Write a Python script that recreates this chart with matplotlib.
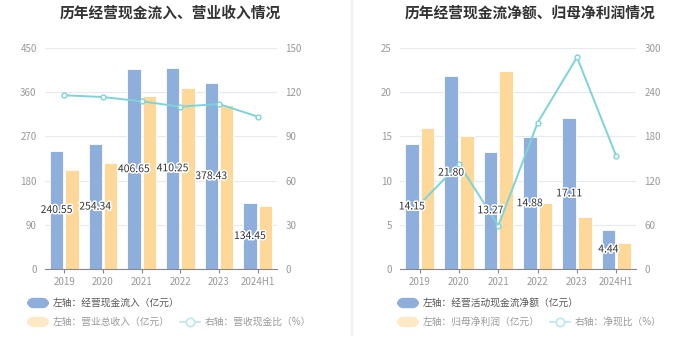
import numpy as np
import matplotlib.pyplot as plt
import matplotlib.patheffects as pe
from matplotlib.patches import FancyBboxPatch
from matplotlib.lines import Line2D

plt.rcParams['font.family'] = ['Noto Sans CJK SC', 'DejaVu Sans']

# === Dati ===
years = ['2019', '2020', '2021', '2022', '2023', '2024H1']

# pannello sinistro
cash_in = [240.55, 254.34, 406.65, 410.25, 378.43, 134.45]
revenue = [201.6, 216.0, 352.0, 368.0, 334.0, 129.0]
cash_rev_ratio = [117.9, 116.7, 113.8, 110.2, 112.0, 103.4]

# pannello destro
net_cash = [14.15, 21.80, 13.27, 14.88, 17.11, 4.44]
net_profit = [15.9, 15.1, 22.4, 7.43, 5.85, 2.9]
net_cash_ratio = [87.8, 142.5, 58.8, 198.6, 287.4, 153.0]

titles = ['历年经营现金流入、营业收入情况', '历年经营现金流净额、归母净利润情况']
legend_left = ['左轴：经营现金流入（亿元）', '左轴：营业总收入（亿元）', '右轴：营收现金比（%）']
legend_right = ['左轴：经营活动现金流净额（亿元）', '左轴：归母净利润（亿元）', '右轴：净现比（%）']

BLUE = '#8eaedb'
YELLOW = '#fed899'
CYAN = '#7ed3d9'
GRID = '#e6e9f0'
TICK = '#999999'

fig = plt.figure(figsize=(7, 3.6), dpi=100, facecolor='w')


def panel(rect, bars1, bars2, line, ylim1, yticks1, ylim2, yticks2, title, title_x, leg, leg_x, line_leg_x):
    ax = fig.add_axes(rect)
    x = np.arange(len(years))
    ax.bar(x - 0.2, bars1, width=0.35, color=BLUE, edgecolor='white', linewidth=0.6, zorder=2)
    ax.bar(x + 0.2, bars2, width=0.35, color=YELLOW, edgecolor='white', linewidth=0.6, zorder=2)
    ax.set_xlim(-0.5, len(years) - 0.5)
    ax.set_ylim(*ylim1)
    ax.set_yticks(yticks1)
    ax.set_xticks(x)
    ax.set_xticklabels(years)
    ax.grid(axis='y', color=GRID, linewidth=0.8, zorder=0)
    for s in ['top', 'right', 'left']:
        ax.spines[s].set_visible(False)
    ax.spines['bottom'].set_color('#888888')
    ax.tick_params(axis='y', length=0, labelsize=7, colors=TICK, pad=6)
    ax.tick_params(axis='x', length=3, color='#888888', labelsize=7, labelcolor=TICK, pad=3)

    # asse destro: linea sopra le barre
    ax2 = ax.twinx()
    ax2.plot(x, line, color=CYAN, linewidth=1.4, marker='o', markersize=3.5,
             markerfacecolor='white', markeredgecolor=CYAN, markeredgewidth=1.0, zorder=5)
    ax2.set_ylim(*ylim2)
    ax2.set_yticks(yticks2)
    for s in ax2.spines.values():
        s.set_visible(False)
    ax2.tick_params(axis='y', length=0, labelsize=7, colors=TICK, pad=6)

    # etichette al centro delle barre blu (sopra la linea)
    for xi, v in zip(x, bars1):
        t = ax2.text(xi - 0.2, v / 2, f'{v:.2f}', ha='center', va='center', fontsize=7.5,
                     color='#333333', zorder=10, transform=ax.transData)
        t.set_path_effects([pe.withStroke(linewidth=2.2, foreground='white')])

    fig.text(title_x, 0.965, title, ha='center', va='center', fontsize=10.6,
             fontweight='bold', color='#333333')

    # legenda
    y1 = 1 - 303 / 360
    y2 = 1 - 322 / 360
    w = 20 / 700
    h = 9 / 360
    fig.patches.append(FancyBboxPatch((leg_x, y1 - h / 2), w, h, boxstyle='round,pad=0,rounding_size=0.008',
                                      transform=fig.transFigure, color=BLUE, mutation_aspect=2))
    fig.text(leg_x + w + 5 / 700, y1, leg[0], ha='left', va='center', fontsize=7, color='#555555')
    fig.patches.append(FancyBboxPatch((leg_x, y2 - h / 2), w, h, boxstyle='round,pad=0,rounding_size=0.008',
                                      transform=fig.transFigure, color='#fee9c6', mutation_aspect=2))
    fig.text(leg_x + w + 5 / 700, y2, leg[1], ha='left', va='center', fontsize=7, color='#999999')
    fig.lines.append(Line2D([line_leg_x, line_leg_x + w], [y2, y2], transform=fig.transFigure,
                            color='#b9e9ec', linewidth=1.2))
    fig.lines.append(Line2D([line_leg_x + w / 2], [y2], transform=fig.transFigure, color='#b9e9ec',
                            marker='o', markersize=6, markerfacecolor='white', markeredgewidth=1.2, linestyle=''))
    fig.text(line_leg_x + w + 5 / 700, y2, leg[2], ha='left', va='center', fontsize=7, color='#999999')
    return ax, ax2


panel([45 / 700, 1 - 269 / 360, 232 / 700, 221 / 360], cash_in, revenue, cash_rev_ratio,
      (0, 450), np.arange(0, 451, 90), (0, 150), np.arange(0, 151, 30),
      titles[0], 170 / 700, legend_left, 28 / 700, 180 / 700)

panel([400 / 700, 1 - 269 / 360, 236 / 700, 221 / 360], net_cash, net_profit, net_cash_ratio,
      (0, 25), np.arange(0, 26, 5), (0, 300), np.arange(0, 301, 60),
      titles[1], 530 / 700, legend_right, 398 / 700, 550 / 700)

# separatore tra i pannelli
fig.lines.append(Line2D([352 / 700, 352 / 700], [1 - 335 / 360, 1], transform=fig.transFigure,
                        color='#f2f2f2', linewidth=1.5))

fig.savefig('out.png', dpi=100)
